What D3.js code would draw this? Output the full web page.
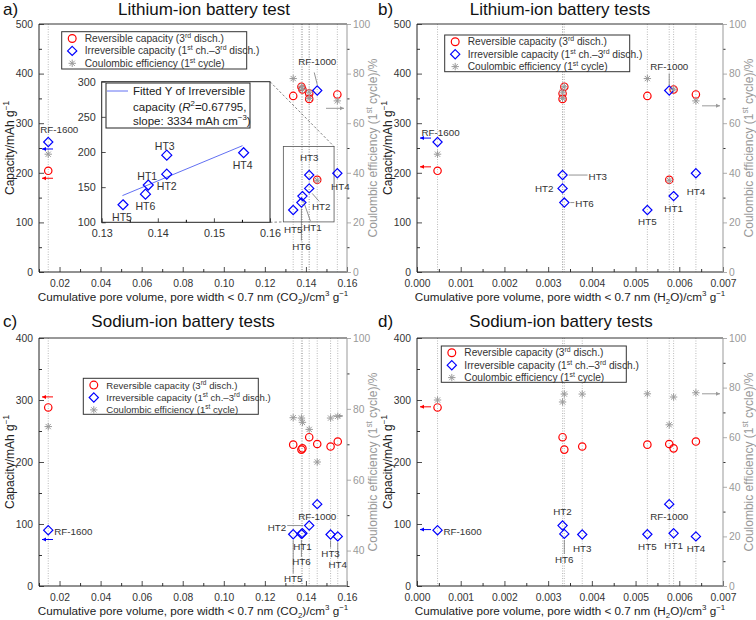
<!DOCTYPE html>
<html><head><meta charset="utf-8">
<script src="https://d3js.org/d3.v7.min.js"></script>
<style>
body{margin:0;background:#fff}
svg{font-family:"Liberation Sans",Arial,sans-serif}
</style>
</head><body>
<svg id="chart" width="756" height="620"></svg>
<script>
// ---------------- DATA ----------------
const samples = ["RF-1600","HT1","HT2","HT3","HT4","HT5","HT6","RF-1000"];
// Lithium-ion tests
const liPoreCO2 = [0.0145,0.1383,0.1416,0.1416,0.1553,0.1338,0.1378,0.1455];
const liPoreH2O = [0.00047,0.00587,0.00333,0.00333,0.00638,0.00527,0.00337,0.00577];
const liReversible = [204,368,349,360,358,355,373.6,186];
const liIrreversible = [262,153,168.5,195.5,199,125,140,366];
const liCoulombic = [47.5,73.7,70,72.5,69,78,74.7,37];
// Sodium-ion tests
const naPoreCO2 = [0.0145,0.1383,0.1416,0.152,0.1555,0.1338,0.1378,0.1455];
const naPoreH2O = [0.00047,0.00587,0.00333,0.00378,0.00638,0.00527,0.00337,0.00577];
const naReversible = [288,222,240,225,233,228,220,229];
const naIrreversible = [90,85,97.5,83,80,83.5,84,132];
const naCoulombic = [75,76.2,74.2,77.4,77.9,77.5,77.4,65];
// Inset fit (Irreversible capacity vs CO2 pore volume)
const fitX = [0.1337,0.1551];
const fitY = [138,209];
const fitText = {r2:"0.67795", slope:"3334"};
// Ticks
const xTicksCO2 = [0.02,0.04,0.06,0.08,0.10,0.12,0.14,0.16];
const xMinorCO2 = [0.01,0.03,0.05,0.07,0.09,0.11,0.13,0.15];
const xTicksH2O = [0,0.001,0.002,0.003,0.004,0.005,0.006,0.007];
const xMinorH2O = [0.0005,0.0015,0.0025,0.0035,0.0045,0.0055,0.0065];
const capTicksLi = [0,100,200,300,400,500];
const capMinorLi = [50,150,250,350,450];
const capTicksNa = [0,100,200,300,400];
const capMinorNa = [50,150,250,350];
const ceTicksLi = [0,20,40,60,80,100];
const ceMinorLi = [10,30,50,70,90];
const ceTicksNa = [40,60,80,100];
const ceMinorNa = [30,50,70,90];
const insetXTicks = [0.13,0.14,0.15,0.16];
const insetXMinor = [0.135,0.145,0.155];
const insetYTicks = [100,150,200,250,300];
const insetSamples = [1,2,3,4,5,6];

// ---------------- HELPERS ----------------
const svg = d3.select("#chart");
const RED="#ff0000", BLUE="#0000ff", GREY="#9a9a9a";

function rich(sel, parts, fs){
  let shift=0;
  parts.forEach(p=>{
    const [s,t,st]=Array.isArray(p)?p:[p,null,null];
    const target = t==="sup" ? -0.4*fs : t==="sub" ? 0.28*fs : 0;
    const ts = sel.append("tspan").text(s).attr("dy", target-shift);
    if(t) ts.attr("font-size", fs*0.68);
    if(st==="i") ts.attr("font-style","italic");
    shift=target;
  });
  return sel;
}
function circleM(g,x,y,rr=3.7){ g.append("circle").attr("cx",x).attr("cy",y).attr("r",rr).attr("fill","none").attr("stroke",RED).attr("stroke-width",1.2); }
function diamondM(g,x,y,s=4.6){ g.append("path").attr("d",`M${x},${y-s}L${x+s},${y}L${x},${y+s}L${x-s},${y}Z`).attr("fill","none").attr("stroke",BLUE).attr("stroke-width",1.2); }
function starM(g,x,y,s=3.7){
  const d=[0,45,90,135].map(a=>{const c=Math.cos(a*Math.PI/180)*s, sn=Math.sin(a*Math.PI/180)*s; return `M${x-c},${y-sn}L${x+c},${y+sn}`;}).join("");
  g.append("path").attr("d",d).attr("stroke",GREY).attr("stroke-width",1).attr("fill","none");
}
function arrow(g,x1,x2,y,color){
  g.append("line").attr("x1",x1).attr("x2",x2).attr("y1",y).attr("y2",y).attr("stroke",color).attr("stroke-width",1);
  const dir = Math.sign(x2-x1);
  g.append("path").attr("d",`M${x2},${y}L${x2-dir*4},${y-2}L${x2-dir*4},${y+2}Z`).attr("fill",color);
}

const legendParts = [
  ["Reversible capacity (3",["rd","sup"]," disch.)"],
  ["Irreversible capacity (1",["st","sup"]," ch.\u20133",["rd","sup"]," disch.)"],
  ["Coulombic efficiency (1",["st","sup"]," cycle)"]
];

// ---------------- PANELS ----------------
const panels = [
 {letter:"a)", letterX:3, title:"Lithium-ion battery test", titleX:204, titleY:15,
  left:39,right:347,top:24,bottom:272,
  xDomain:[0.01,0.16], xTicks:xTicksCO2, xMinor:xMinorCO2, xFmt:".2f", gas:"CO",
  yDomain:[0,500], yTicks:capTicksLi, yMinor:capMinorLi,
  rDomain:[0,100], rTicks:ceTicksLi, rMinor:ceMinorLi,
  xs:liPoreCO2, rev:liReversible, irr:liIrreversible, ce:liCoulombic,
  legend:[61.7,31.7,185,37.3],
  labels:[[0,11,-9,"middle"],[7,0,-25,"middle"],[3,0,-14,"middle"],[4,3,17,"middle"],[2,12,22,"middle"],[1,10,35,"middle"],[6,0,47,"middle"],[5,0,23,"middle"]],
  leaders:[[7,-3,-18,0,-6],[6,0,6,0,38],[1,1,5,8,25],[2,3,5,10,13]],
  arrows:[["l",248,"y",BLUE],["l",189,"y",RED],["r",66,"r",GREY]],
  inset:true},
 {letter:"b)", letterX:378, title:"Lithium-ion battery tests", titleX:560, titleY:15,
  left:417,right:723,top:24,bottom:272,
  xDomain:[0,0.007], xTicks:xTicksH2O, xMinor:xMinorH2O, xFmt:".3f", gas:"H",
  yDomain:[0,500], yTicks:capTicksLi, yMinor:capMinorLi,
  rDomain:[0,100], rTicks:ceTicksLi, rMinor:ceMinorLi,
  xs:liPoreH2O, rev:liReversible, irr:liIrreversible, ce:liCoulombic,
  legend:[444.7,35,185,36.7],
  labels:[[0,3,-6.5,"middle"],[7,0,-20,"middle"],[3,26,4.5,"start"],[2,-9,4,"end"],[6,11,4,"start"],[5,0,15,"middle"],[1,0,16,"middle"],[4,0,22,"middle"]],
  leaders:[[7,0,-17,0,-5],[3,6,0,25,0],[6,6,0,10,0]],
  arrows:[["l",270,"y",BLUE],["l",212,"y",RED],["r",67,"r",GREY]]},
 {letter:"c)", letterX:3, title:"Sodium-ion battery tests", titleX:183, titleY:327,
  left:39,right:347,top:338,bottom:586,
  xDomain:[0.01,0.16], xTicks:xTicksCO2, xMinor:xMinorCO2, xFmt:".2f", gas:"CO",
  yDomain:[0,400], yTicks:capTicksNa, yMinor:capMinorNa,
  rDomain:[30,100], rTicks:ceTicksNa, rMinor:ceMinorNa,
  xs:naPoreCO2, rev:naReversible, irr:naIrreversible, ce:naCoulombic,
  legend:[83.3,378.3,175,36],
  labels:[[0,6,4.5,"start"],[7,0,16,"middle"],[2,-23,5,"end"],[1,0,17,"middle"],[6,0,31.5,"middle"],[5,0,48,"middle"],[3,0,22,"middle"],[4,0,31.5,"middle"]],
  leaders:[[2,-22,0,-6,0],[5,0,6,0,39],[6,0,6,0,23],[3,0,6,0,13],[4,0,6,0,22]],
  arrows:[["l",305,"y",RED],["l",75,"y",BLUE],["rs",78,"r",GREY]]},
 {letter:"d)", letterX:378, title:"Sodium-ion battery tests", titleX:561, titleY:327,
  left:417,right:723,top:338,bottom:586,
  xDomain:[0,0.007], xTicks:xTicksH2O, xMinor:xMinorH2O, xFmt:".3f", gas:"H",
  yDomain:[0,400], yTicks:capTicksNa, yMinor:capMinorNa,
  rDomain:[0,100], rTicks:ceTicksLi, rMinor:ceMinorLi,
  xs:naPoreH2O, rev:naReversible, irr:naIrreversible, ce:naCoulombic,
  legend:[441.3,346,185,36.3],
  labels:[[0,6,4.5,"start"],[2,0,-10.5,"middle"],[6,0,29,"middle"],[3,0,17,"middle"],[5,0,16,"middle"],[7,0,15.5,"middle"],[1,0,16,"middle"],[4,0,16,"middle"]],
  leaders:[[6,0,6,0,20]],
  arrows:[["l",289,"y",RED],["l",91,"y",BLUE],["r",77.5,"r",GREY]]}
];

panels.forEach(p=>{
  const g = svg.append("g");
  const x = d3.scaleLinear().domain(p.xDomain).range([p.left,p.right]);
  const y = d3.scaleLinear().domain(p.yDomain).range([p.bottom,p.top]);
  const r = d3.scaleLinear().domain(p.rDomain).range([p.bottom,p.top]);

  // titles
  g.append("text").attr("x",p.letterX).attr("y",p.titleY).attr("font-size",17).attr("fill","#111").text(p.letter);
  g.append("text").attr("x",p.titleX).attr("y",p.titleY).attr("text-anchor","middle").attr("font-size",17).attr("fill","#111").text(p.title);

  // dotted guide lines at each sample
  g.selectAll("line.grid").data(p.xs).join("line").attr("class","grid")
    .attr("x1",d=>x(d)).attr("x2",d=>x(d)).attr("y1",p.top).attr("y2",p.bottom)
    .attr("stroke","#a8a8a8").attr("stroke-width",0.8).attr("stroke-dasharray","1,1.5");

  // axes
  const fs=10.3;
  const ax = g.append("g").attr("transform",`translate(0,${p.bottom})`)
    .call(d3.axisBottom(x).tickValues(p.xTicks).tickFormat(d3.format(p.xFmt)).tickSizeInner(-5).tickSizeOuter(0).tickPadding(8));
  g.append("g").attr("transform",`translate(0,${p.bottom})`)
    .call(d3.axisBottom(x).tickValues(p.xMinor).tickFormat("").tickSizeInner(-3).tickSizeOuter(0));
  const ay = g.append("g").attr("transform",`translate(${p.left},0)`)
    .call(d3.axisLeft(y).tickValues(p.yTicks).tickSizeInner(-5).tickSizeOuter(0).tickPadding(6));
  g.append("g").attr("transform",`translate(${p.left},0)`)
    .call(d3.axisLeft(y).tickValues(p.yMinor).tickFormat("").tickSizeInner(-3).tickSizeOuter(0));
  const ar = g.append("g").attr("transform",`translate(${p.right},0)`)
    .call(d3.axisRight(r).tickValues(p.rTicks).tickSizeInner(4).tickSizeOuter(0).tickPadding(2));
  g.append("g").attr("transform",`translate(${p.right},0)`)
    .call(d3.axisRight(r).tickValues(p.rMinor).tickFormat("").tickSizeInner(2.5).tickSizeOuter(0));
  g.selectAll(".domain").remove();
  [ax,ay].forEach(a=>{a.selectAll("text").attr("font-size",fs).attr("fill","#333").attr("font-family","Liberation Sans, Arial, sans-serif"); a.selectAll("line").attr("stroke","#222");});
  ar.selectAll("text").attr("font-size",fs).attr("fill","#999").attr("font-family","Liberation Sans, Arial, sans-serif");
  g.selectAll(".tick line").attr("stroke-width",0.8);
  ar.selectAll("line").attr("stroke","#999");
  // frame
  g.append("line").attr("x1",p.left).attr("x2",p.right).attr("y1",p.top).attr("y2",p.top).attr("stroke","#333").attr("stroke-width",1);
  g.append("line").attr("x1",p.left).attr("x2",p.right).attr("y1",p.bottom).attr("y2",p.bottom).attr("stroke","#222").attr("stroke-width",1);
  g.append("line").attr("x1",p.left).attr("x2",p.left).attr("y1",p.top).attr("y2",p.bottom).attr("stroke","#222").attr("stroke-width",1);
  g.append("line").attr("x1",p.right).attr("x2",p.right).attr("y1",p.top).attr("y2",p.bottom).attr("stroke","#999").attr("stroke-width",1);

  // axis titles
  const xl = g.append("text").attr("x",(p.left+p.right)/2).attr("y",p.bottom+29).attr("text-anchor","middle").attr("font-size",11.7).attr("fill","#222");
  if(p.gas==="CO") rich(xl,["Cumulative pore volume, pore width < 0.7 nm (CO",["2","sub"],")/cm",["3","sup"]," g",["\u22121","sup"]],11.7);
  else rich(xl,["Cumulative pore volume, pore width < 0.7 nm (H",["2","sub"],"O)/cm",["3","sup"]," g",["\u22121","sup"]],11.7);
  const yc=(p.top+p.bottom)/2;
  const yl = g.append("text").attr("transform",`translate(${p.left-25},${yc}) rotate(-90)`).attr("text-anchor","middle").attr("font-size",12).attr("fill","#222");
  rich(yl,["Capacity/mAh g",["\u22121","sup"]],12);
  const rl = g.append("text").attr("transform",`translate(${p.right+30},${yc}) rotate(-90)`).attr("text-anchor","middle").attr("font-size",12).attr("fill","#999");
  rich(rl,["Coulombic efficiency (1",["st","sup"]," cycle)/%"],12);

  // panel a zoom box + dashed connectors
  let inset=null;
  if(p.inset){
    inset={left:101.7,right:270,top:81.7,bottom:222.3};
    const zx=[0.129,0.1537], zy=[101,253];
    g.append("rect").attr("x",x(zx[0])).attr("y",y(zy[1])).attr("width",x(zx[1])-x(zx[0])).attr("height",y(zy[0])-y(zy[1]))
      .attr("fill","none").attr("stroke","#555").attr("stroke-width",0.8);
    g.append("line").attr("x1",inset.right).attr("y1",inset.top).attr("x2",x(zx[1])).attr("y2",y(zy[1])).attr("stroke","#666").attr("stroke-width",0.8).attr("stroke-dasharray","2.5,2");
    g.append("line").attr("x1",inset.right).attr("y1",inset.bottom).attr("x2",x(zx[0])).attr("y2",y(zy[0])).attr("stroke","#666").attr("stroke-width",0.8).attr("stroke-dasharray","2.5,2");
  }

  // leader lines
  p.leaders.forEach(([i,dx1,dy1,dx2,dy2])=>{
    const cx=x(p.xs[i]), cy=y(p.irr[i]);
    g.append("line").attr("x1",cx+dx1).attr("y1",cy+dy1).attr("x2",cx+dx2).attr("y2",cy+dy2).attr("stroke","#666").attr("stroke-width",0.7);
  });

  // markers
  p.xs.forEach((v,i)=>{ circleM(g,x(v),y(p.rev[i])); });
  p.xs.forEach((v,i)=>{ diamondM(g,x(v),y(p.irr[i])); });
  p.xs.forEach((v,i)=>{ starM(g,x(v),r(p.ce[i])); });

  // arrows
  p.arrows.forEach(([dir,val,axis,color])=>{
    const yy = axis==="y"? y(val) : r(val);
    if(dir==="l") arrow(g,p.left+14,p.left+3,yy,color);
    else if(dir==="r") arrow(g,p.right-21,p.right-3,yy,color);
    else arrow(g,p.right-14,p.right-4,yy,color);
  });

  // point labels
  p.labels.forEach(([i,dx,dy,anchor])=>{
    g.append("text").attr("x",x(p.xs[i])+dx).attr("y",y(p.irr[i])+dy).attr("text-anchor",anchor)
      .attr("font-size",9.8).attr("fill","#333").text(samples[i]);
  });

  // legend
  const [lx,ly,lw,lh]=p.legend;
  const lg=g.append("g");
  lg.append("rect").attr("x",lx).attr("y",ly).attr("width",lw).attr("height",lh).attr("fill","#fff").attr("stroke","#333").attr("stroke-width",1);
  const rows=[6.8,19.2,31.6];
  circleM(lg,lx+10.5,ly+rows[0],3.9);
  diamondM(lg,lx+10.5,ly+rows[1],4.6);
  starM(lg,lx+10.5,ly+rows[2]);
  const lfs = lw>180 ? 10.2 : 9.6;
  legendParts.forEach((parts,k)=>{
    const t=lg.append("text").attr("x",lx+23).attr("y",ly+rows[k]+3.4).attr("font-size",lfs).attr("fill","#333");
    rich(t,parts,lfs);
  });

  // inset
  if(inset){
    const ig=g.append("g");
    const ix=d3.scaleLinear().domain([0.13,0.16]).range([inset.left,inset.right]);
    const iy=d3.scaleLinear().domain([100,300]).range([inset.bottom,inset.top]);
    ig.append("rect").attr("x",inset.left).attr("y",inset.top).attr("width",inset.right-inset.left).attr("height",inset.bottom-inset.top)
      .attr("fill","#fff").attr("stroke","#222").attr("stroke-width",1);
    const iax=ig.append("g").attr("transform",`translate(0,${inset.bottom})`)
      .call(d3.axisBottom(ix).tickValues(insetXTicks).tickFormat(d3.format(".2f")).tickSizeInner(-4).tickSizeOuter(0).tickPadding(7));
    ig.append("g").attr("transform",`translate(0,${inset.bottom})`)
      .call(d3.axisBottom(ix).tickValues(insetXMinor).tickFormat("").tickSizeInner(-2.5).tickSizeOuter(0));
    const iay=ig.append("g").attr("transform",`translate(${inset.left},0)`)
      .call(d3.axisLeft(iy).tickValues(insetYTicks).tickSizeInner(-4).tickSizeOuter(0).tickPadding(6));
    ig.selectAll(".domain").remove();
    [iax,iay].forEach(a=>{a.selectAll("text").attr("font-size",10.8).attr("fill","#333").attr("font-family","Liberation Sans, Arial, sans-serif"); a.selectAll("line").attr("stroke","#222").attr("stroke-width",0.8);});
    // fit line
    ig.append("path").attr("d",d3.line().x((d,k)=>ix(fitX[k])).y(d=>iy(d))(fitY)).attr("stroke","#5060f0").attr("stroke-width",0.9).attr("fill","none");
    insetSamples.forEach(i=>diamondM(ig,ix(liPoreCO2[i]),iy(liIrreversible[i]),5));
    const insetLabels=[[5,-1,16],[6,0,16],[1,-1,-5.5],[2,0,16],[3,-2,-5.5],[4,-1,16]];
    insetLabels.forEach(([i,dx,dy])=>{
      ig.append("text").attr("x",ix(liPoreCO2[i])+dx).attr("y",iy(liIrreversible[i])+dy).attr("text-anchor","middle")
        .attr("font-size",10.5).attr("fill","#333").text(samples[i]);
    });
    // inset legend
    ig.append("rect").attr("x",106).attr("y",83).attr("width",144).attr("height",45).attr("fill","#fff").attr("stroke","#222").attr("stroke-width",1);
    ig.append("line").attr("x1",107).attr("x2",128).attr("y1",91).attr("y2",91).attr("stroke","#5060f0").attr("stroke-width",0.9);
    ig.append("text").attr("x",133).attr("y",95).attr("font-size",11.5).attr("fill","#222").text("Fitted Y of Irreversible");
    rich(ig.append("text").attr("x",133).attr("y",111).attr("font-size",11.5).attr("fill","#222"),["capacity (",["R",null,"i"],["2","sup"],"="+fitText.r2+","],11.5);
    rich(ig.append("text").attr("x",133).attr("y",124.5).attr("font-size",11.5).attr("fill","#222"),["slope: "+fitText.slope+" mAh cm",["\u22123","sup"],")"],11.5);
  }
});
</script>
</body></html>
